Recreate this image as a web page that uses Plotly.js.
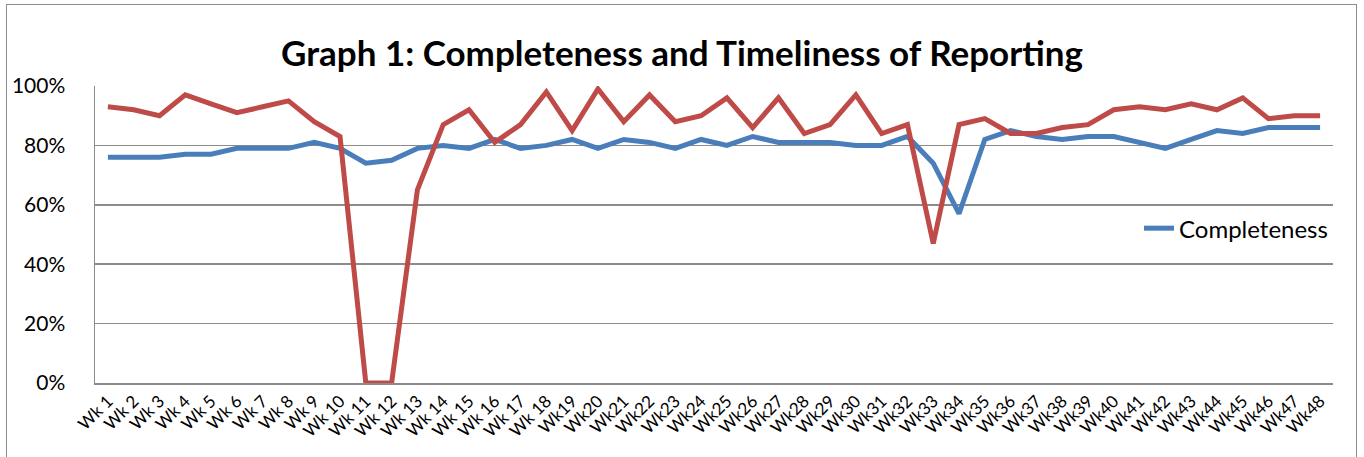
<!DOCTYPE html>
<html>
<head>
<meta charset="utf-8">
<script src="https://cdn.plot.ly/plotly-3.0.1.min.js"></script>
<style>
  html, body { margin: 0; padding: 0; background: #fff; }
  #wrap { position: relative; width: 1364px; height: 457px; overflow: hidden; }
  #chart { width: 1364px; height: 457px; }
  #frame { position: absolute; left: 6px; top: 4px; width: 1351px; height: 470px;
           border: 1.5px solid #8c8c8c; pointer-events: none; box-sizing: border-box; }
</style>
</head>
<body>
<div id="wrap">
  <div id="chart"></div>
  <div id="frame"></div>
</div>
<script>
const weeks = ["Wk 1","Wk 2","Wk 3","Wk 4","Wk 5","Wk 6","Wk 7","Wk 8","Wk 9","Wk 10",
  "Wk 11","Wk 12","Wk 13","Wk 14","Wk 15","Wk 16","Wk 17","Wk 18","Wk19","Wk20",
  "Wk21","Wk22","Wk23","Wk24","Wk25","Wk26","Wk27","Wk28","Wk29","Wk30",
  "Wk31","Wk32","Wk33","Wk34","Wk35","Wk36","Wk37","Wk38","Wk39","Wk40",
  "Wk41","Wk42","Wk43","Wk44","Wk45","Wk46","Wk47","Wk48"];

const completeness = [0.76,0.76,0.76,0.77,0.77,0.79,0.79,0.79,0.81,0.79,
  0.74,0.75,0.79,0.80,0.79,0.82,0.79,0.80,0.82,0.79,
  0.82,0.81,0.79,0.82,0.80,0.83,0.81,0.81,0.81,0.80,
  0.80,0.83,0.74,0.57,0.82,0.85,0.83,0.82,0.83,0.83,
  0.81,0.79,0.82,0.85,0.84,0.86,0.86,0.86];

const timeliness = [0.93,0.92,0.90,0.97,0.94,0.91,0.93,0.95,0.88,0.83,
  0.00,0.00,0.65,0.87,0.92,0.81,0.87,0.98,0.85,0.99,
  0.88,0.97,0.88,0.90,0.96,0.86,0.96,0.84,0.87,0.97,
  0.84,0.87,0.47,0.87,0.89,0.84,0.84,0.86,0.87,0.92,
  0.93,0.92,0.94,0.92,0.96,0.89,0.90,0.90];

const yTicks = [0, 0.2, 0.4, 0.6, 0.8, 1.0];
const yTickText = ["0%","20%","40%","60%","80%","100%"];

const font = "Lato, 'Open Sans', 'Liberation Sans', sans-serif";

const traces = [
  { x: weeks, y: completeness, type: "scatter", mode: "lines", name: "Completeness",
    line: { color: "#4a7ebb", width: 5 }, showlegend: true },
  { x: weeks, y: timeliness, type: "scatter", mode: "lines", name: "Timeliness",
    line: { color: "#be4b48", width: 5 }, showlegend: false }
];

const layout = {
  width: 1364, height: 457,
  margin: { l: 95, r: 31, t: 86, b: 74, pad: 0 },
  paper_bgcolor: "#ffffff", plot_bgcolor: "#ffffff",
  font: { family: font, color: "#000", size: 18 },
  title: { text: "<b>Graph 1: Completeness and Timeliness of Reporting</b>",
    font: { family: font, size: 35, color: "#000" },
    x: 0.5, xanchor: "center", xref: "container", y: 1, yref: "container", yanchor: "top", pad: { t: 41 } },
  xaxis: {
    type: "category", categoryorder: "array", categoryarray: weeks,
    range: [-0.5, 47.5], tickangle: -45,
    tickfont: { family: font, size: 17, color: "#000" },
    showgrid: false, showline: true, linecolor: "#8c8c8c", linewidth: 1.5,
    ticks: "", fixedrange: true, automargin: false
  },
  yaxis: {
    range: [0, 1.0], tickvals: yTicks, ticktext: yTickText,
    tickfont: { family: font, size: 21, color: "#000" },
    showgrid: true, gridcolor: "#8c8c8c", gridwidth: 1.5,
    showline: true, linecolor: "#8c8c8c", linewidth: 1.5,
    zeroline: false, ticks: "", ticklabelstandoff: 24, automargin: false
  },
  legend: {
    x: 1.0, xanchor: "right", y: 0.52, yanchor: "middle",
    font: { family: font, size: 24, color: "#000" },
    bgcolor: "rgba(0,0,0,0)", borderwidth: 0
  },
  showlegend: true
};

Plotly.newPlot("chart", traces, layout, { displayModeBar: false, staticPlot: true });
</script>
</body>
</html>
